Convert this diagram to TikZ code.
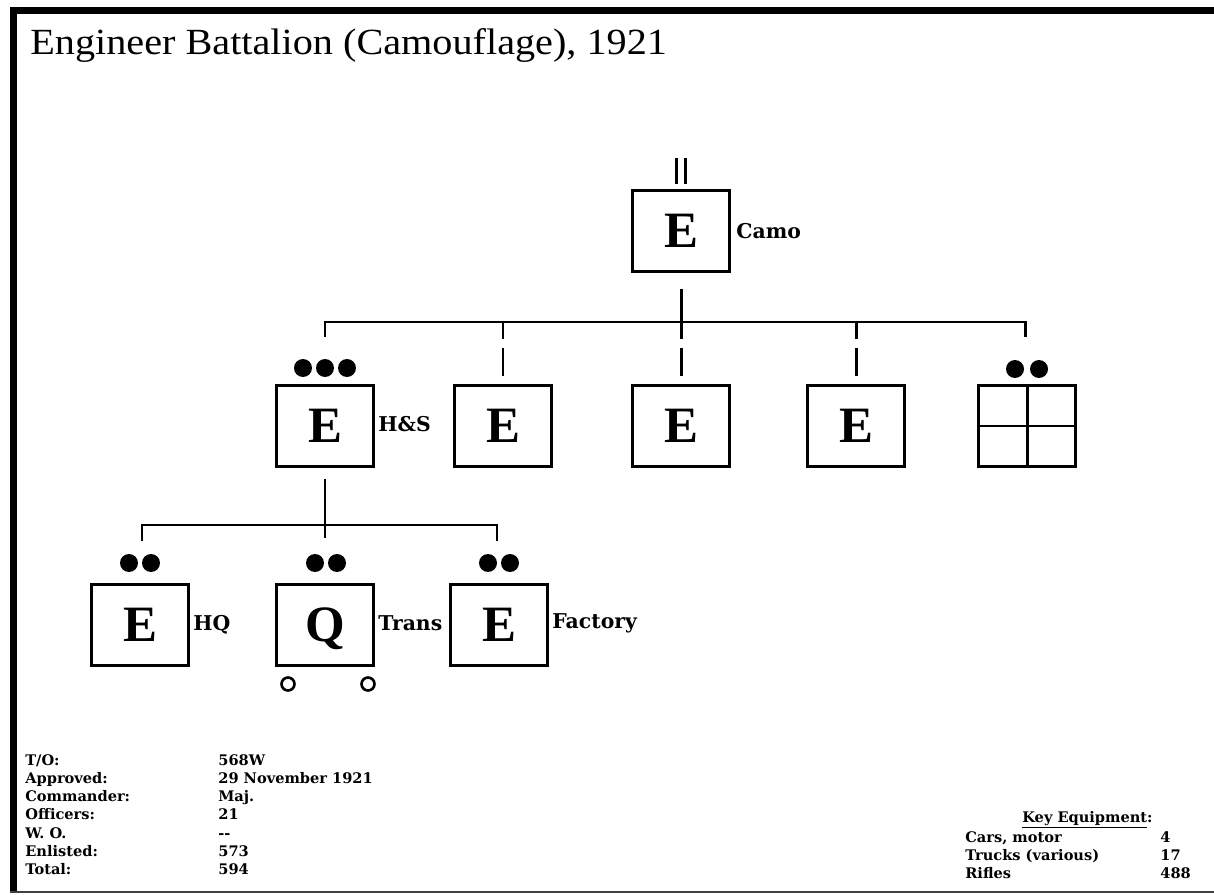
\documentclass[tikz,border=0pt]{standalone}
\usepackage{fontspec}
\setmainfont{Liberation Serif}
\newfontfamily\dvs{DejaVu Serif}
\usetikzlibrary{calc}
\tikzset{
  box/.style={draw,line width=1.7pt,minimum width=1.94cm,minimum height=1.62cm,inner sep=0pt,text depth=0pt,font=\fontsize{29}{30}\selectfont\bfseries},
  lbl/.style={anchor=west,inner sep=0pt,font=\dvs\bfseries\fontsize{11.6}{13}\selectfont},
  foot/.style={anchor=base west,inner sep=0pt,font=\dvs\bfseries\fontsize{8.3}{10}\selectfont},
  conn/.style={line width=1.7pt},
  dot/.style={fill=black},
}
\begin{document}
\begin{tikzpicture}[x=0.02cm,y=-0.02cm]
\useasboundingbox (0,0) rectangle (1214,895);
% frame
\fill (10,7) rectangle (17,893);
\fill (10,7) rectangle (1214,14);
\draw[line width=1.3pt,black!75] (10,892) -- (1214,892);
% title
\node[anchor=base west,inner sep=0pt,font=\fontsize{21}{25}\selectfont] (title) at (30,55) {\scalebox{1.09}[1]{Engineer Battalion (Camouflage), 1921}};
% top unit
\node[box] (camo) at (681,231) {E};
\node[lbl] (camol) at (736,231) {Camo};
\draw[conn] (676.5,158) -- (676.5,184);
\draw[conn] (685.5,158) -- (685.5,184);
% row 2
\node[box] (hs) at (325,426) {E};
\node[lbl] (hsl) at (378,424) {H\&S};
\node[box] (e1) at (503,426) {E};
\node[box] (e2) at (681,426) {E};
\node[box] (e3) at (856,426) {E};
\node[box] (grid) at (1027,426) {};
\draw[line width=1.7pt] (grid.north) -- (grid.south);
\draw[line width=1.7pt] (grid.west) -- (grid.east);
% bus 1
\coordinate (j1) at (681,322);
\coordinate (b0) at (325,322);
\coordinate (b5) at (1025,322);
\draw[conn] ([yshift=-0.32cm]camo.south) -- (j1);
\draw[conn] ($(b0)+(0,15)$) -- (b0) -- (b5) -- ($(b5)+(0,15)$);
\foreach \n in {e1,e2,e3}{
  \draw[conn] (\n.north |- j1) -- ++(0,17);
  \draw[conn] ([yshift=0.16cm]\n.north) -- ++(0,-28);
}
% dots row 2
\foreach \x in {303,325,347} \fill[dot] (\x,368) circle[radius=0.18cm];
\foreach \x in {1015,1039} \fill[dot] (\x,369) circle[radius=0.18cm];
% row 3
\node[box] (hq) at (140,625) {E};
\node[lbl] (hql) at (193,625) {HQ};
\node[box] (trans) at (325,625) {Q};
\node[lbl] (transl) at (378,623) {Trans};
\node[box] (fac) at (499,625) {E};
\node[lbl] (facl) at (552,623) {Factory};
\draw[line width=1.5pt] (288,684) circle[radius=0.13cm];
\draw[line width=1.5pt] (368,684) circle[radius=0.13cm];
% bus 2
\coordinate (j2) at (325,525);
\coordinate (c0) at (142,525);
\coordinate (c2) at (497,525);
\draw[conn] ([yshift=-0.22cm]hs.south) -- (j2) -- ++(0,13);
\draw[conn] ($(c0)+(0,16)$) -- (c0) -- (c2) -- ($(c2)+(0,16)$);
\foreach \x in {129,151,315,337,488,510} \fill[dot] (\x,563) circle[radius=0.18cm];
% footer
\node[foot] (fa1) at (25,765) {T/O:};
\node[foot] (fb1) at (218,765) {568W};
\foreach \a/\b [count=\i from 2] in {Approved:/29 November 1921, Commander:/Maj., Officers:/21, W. O./--, Enlisted:/573, Total:/594}{
  \node[foot] (fa\i) at (25,{765+18.3*(\i-1)}) {\a};
  \node[foot] (fb\i) at (218,{765+18.3*(\i-1)}) {\b};
}
\node[foot] (keyh) at (1022,822) {\underline{Key Equipment}:};
\foreach \a/\b [count=\i] in {{Cars, motor}/4, Trucks (various)/17, Rifles/488}{
  \node[foot] (ka\i) at (965,{842+18*(\i-1)}) {\a};
  \node[foot] (kb\i) at (1160,{842+18*(\i-1)}) {\b};
}
\end{tikzpicture}
\end{document}
